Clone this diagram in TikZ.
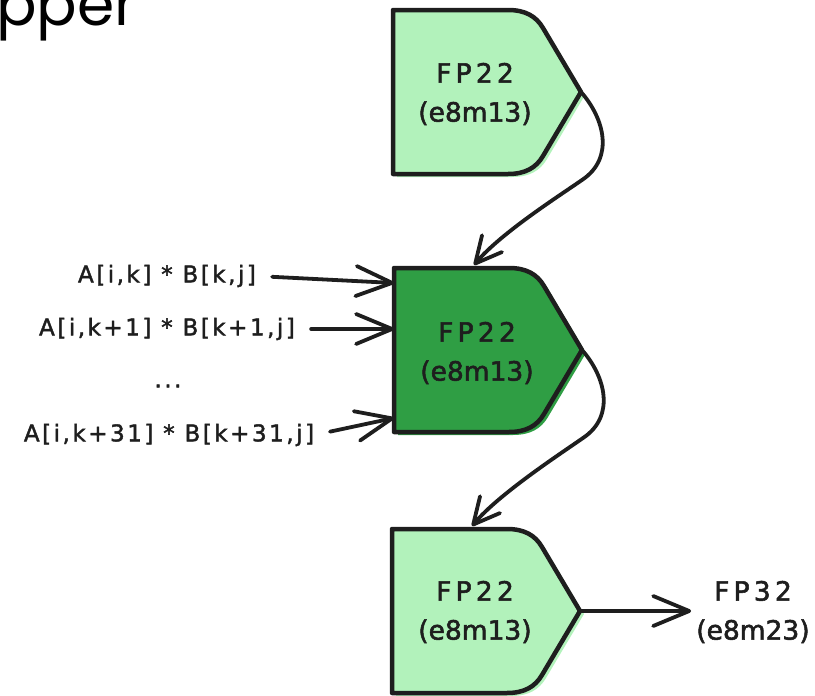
\documentclass[tikz,border=0pt]{standalone}
\usepackage{fontspec}
\setmainfont{Poppins}
\newfontfamily\capsfont[LetterSpace=16, FakeBold=2]{DejaVu Sans}
\newfontfamily\boxfont[FakeBold=2]{DejaVu Sans}
\newfontfamily\infont[LetterSpace=11, FakeBold=1.8]{DejaVu Sans}
\usetikzlibrary{arrows.meta}
\definecolor{ink}{HTML}{1E1E1E}
\definecolor{paleg}{HTML}{B2F2BB}
\definecolor{deepg}{HTML}{2F9E44}

\tikzset{
  outline/.style={draw=ink, line width=4.5pt, line join=round, line cap=round},
  boxtext/.style={font=\boxfont\fontsize{26.5}{39}\selectfont, align=center, text=ink, inner sep=0pt},
  intext/.style={font=\infont\fontsize{23}{28}\selectfont, align=center, text=ink, inner sep=0pt},
  arrs/.style={draw=ink, line width=3.8pt, line cap=round,
    -{Straight Barb[length=36pt, width=30pt, round]}},
  arrc/.style={draw=ink, line width=3.8pt, line cap=round,
    -{Straight Barb[length=26pt, width=26pt, round]}},
}
\newcommand\wide[1]{{\capsfont #1}}

% FP block: name, left x, top y, fill colour
\newcommand\fpblock[4]{%
  \begin{scope}[shift={(#2,#3)}]
    \fill[#4] (0,0) -- (115,0) .. controls (132,0) and (143,6) .. (150,18)
      -- (188,82) -- (150,146) .. controls (143,158) and (132,164) .. (115,164)
      -- (0,164) -- cycle;
    \fill[#4, shift={(4,3)}] (0,0) -- (115,0) .. controls (132,0) and (143,6) .. (150,18)
      -- (188,82) -- (150,146) .. controls (143,158) and (132,164) .. (115,164)
      -- (0,164) -- cycle;
    \path[outline] (0,0) -- (115,0) .. controls (132,0) and (143,6) .. (150,18)
      -- (188,82) -- (150,146) .. controls (143,158) and (132,164) .. (115,164)
      -- (0,164) -- cycle;
    \coordinate (#1-tip) at (188,82);
    \coordinate (#1-top) at (80,-3);
    \coordinate (#1-in1) at (0,15);
    \coordinate (#1-in2) at (0,61);
    \coordinate (#1-in3) at (0,150);
  \end{scope}}

\begin{document}
\begin{tikzpicture}[x=1pt, y=-1pt]
  \useasboundingbox (0,0) rectangle (815,696);

  % heading
  \node[anchor=base west, font=\fontsize{60}{66}\selectfont, text=black, inner sep=0pt]
    (title) at (-4,25) {pper};

  % the three FP22 stages
  \fpblock{s1}{393}{10}{paleg}
  \fpblock{s2}{394}{268}{deepg}
  \fpblock{s3}{392}{529}{paleg}

  \node[boxtext] (s1-label) at (475,94) {\wide{FP22}\\(e8m13)};
  \node[boxtext] (s2-label) at (477,353) {\wide{FP22}\\(e8m13)};
  \node[boxtext] (s3-label) at (475,612) {\wide{FP22}\\(e8m13)};

  % products fed into the middle stage
  \node[intext] (p1) at (167,276) {A[i,k] * B[k,j]};
  \node[intext] (p2) at (167,329) {A[i,k+1] * B[k+1,j]};
  \node[intext] (dots) at (168,386) {...};
  \node[intext] (p3) at (169,435) {A[i,k+31] * B[k+31,j]};

  \draw[arrs, shorten <=16pt] (p1.east) -- (s2-in1);
  \draw[arrs, shorten <=16pt] (p2.east) -- (s2-in2);
  \draw[arrs, shorten <=16pt] (p3.east) -- (s2-in3);

  % result
  \node[boxtext] (out) at (753,612) {\wide{FP32}\\(e8m23)};
  \draw[arrs, shorten >=5pt] (s3-tip) -- (out.west |- s3-tip);

  % stage-to-stage links
  \draw[arrc] (s1-tip) .. controls +(23,26) and +(33,-22) .. ++(1,88)
    .. controls +(-23,16) and +(27,-32) .. (s2-top);
  \draw[arrc] (s2-tip) .. controls +(23,26) and +(33,-22) .. ++(1,88)
    .. controls +(-23,16) and +(27,-32) .. (s3-top);
\end{tikzpicture}
\end{document}
